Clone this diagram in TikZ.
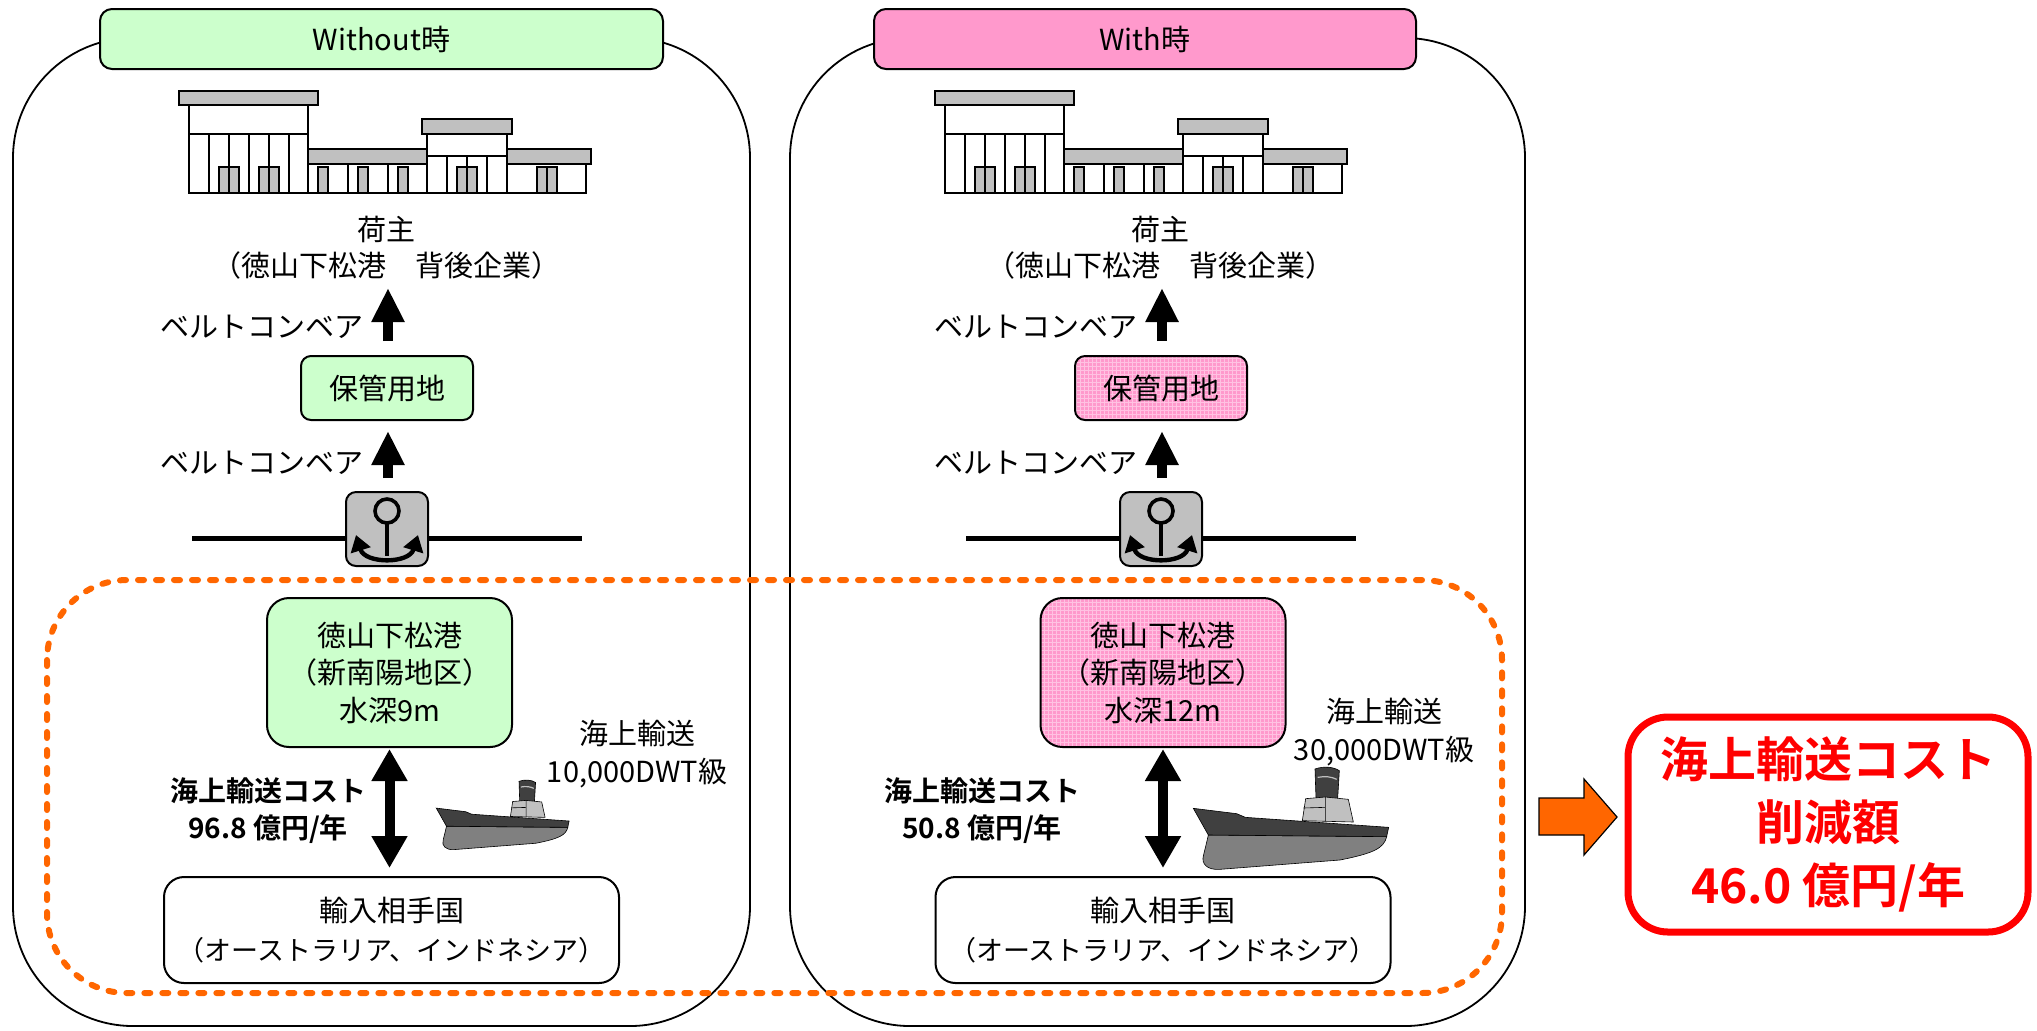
\documentclass[tikz,border=0pt]{standalone}
\usepackage{fontspec}
\setmainfont{Noto Sans CJK JP}[BoldFont={Noto Sans CJK JP Bold}]
\usetikzlibrary{arrows.meta,patterns.meta}

\definecolor{lgreen}{HTML}{CCFFCC}
\definecolor{lpink}{HTML}{FF99CC}
\definecolor{gridpink}{HTML}{FFC2E2}
\definecolor{roofgray}{HTML}{C0C0C0}
\definecolor{orangeline}{HTML}{FF6600}
\definecolor{hulldark}{HTML}{404040}
\definecolor{hulllight}{HTML}{808080}

\tikzset{
  % row of factory buildings (local pixel coordinates)
  warehouse/.pic={
    \begin{scope}[line width=0.6pt]
      \filldraw[fill=white] (189,105) rectangle (308,193);
      \filldraw[fill=white] (308,164) rectangle (427,193);
      \filldraw[fill=white] (427,134) rectangle (507,193);
      \filldraw[fill=white] (507,164) rectangle (586,193);
      \filldraw[fill=roofgray] (219,167) rectangle (239,193) (259,167) rectangle (279,193)
        (318,167) rectangle (328,193) (358,167) rectangle (368,193) (398,167) rectangle (408,193)
        (457,167) rectangle (477,193) (537,167) rectangle (557,193);
      \draw (189,134) -- (308,134) (427,156) -- (507,156);
      \foreach \x in {209,229,249,269,289} \draw (\x,134) -- (\x,193);
      \foreach \x in {348,388} \draw (\x,164) -- (\x,193);
      \foreach \x in {447,467,487} \draw (\x,156) -- (\x,193);
      \draw (547,167) -- (547,193);
      \filldraw[fill=roofgray, line width=0.9pt] (179,91) rectangle (318,105)
        (308,149) rectangle (427,164) (422,119) rectangle (512,134) (507,149) rectangle (591,164);
    \end{scope}
  },
  % bulk carrier seen from the side
  cargoship/.pic={
    \filldraw[fill=hulldark, line width=0.3pt] (525,147) .. controls (550,138) and (580,140) .. (598,152)
      -- (593,236) -- (528,234) -- cycle;
    \draw[white!75!black, line width=0.6pt] (533,172) .. controls (555,168) and (575,170) .. (590,178);
    \filldraw[fill=roofgray, line width=0.3pt] (497,236) -- (556,231) -- (625,238) -- (640,306) -- (487,302) -- cycle;
    \draw[line width=0.3pt] (556,231) -- (556,304) (490,264) -- (556,262);
    \filldraw[fill=hulllight, line width=0.3pt] (205,345) -- (740,350)
      .. controls (732,385) and (700,400) .. (600,420) -- (240,448)
      .. controls (200,451) and (184,430) .. (190,408)
      .. controls (194,390) and (200,368) .. (205,345) -- cycle;
    \filldraw[fill=hulldark, line width=0.3pt] (160,265) -- (290,281) -- (316,292) -- (746,322)
      -- (740,350) -- (205,345) -- cycle;
  },
  % berth symbol
  anchorsign/.pic={
    \filldraw[fill=roofgray, line width=1pt, rounded corners=5pt] (-41,-37) rectangle (41,37);
    \draw[line width=1.8pt] (0,-18) circle[radius=6pt];
    \draw[line width=2.2pt] (0,-6) -- (0,27);
    \draw[line width=2.2pt, {Triangle[width=10pt,length=8pt]}-{Triangle[width=10pt,length=8pt]}]
      (-31,6) .. controls (-22,35) and (22,35) .. (31,6);
  }
}

\begin{document}
\begin{tikzpicture}[x=0.5pt,y=-0.5pt,
  every node/.style={inner sep=0pt, align=center, font=\fontsize{14.5}{18}\selectfont},
  panelframe/.style={draw, line width=0.9pt, rounded corners=60pt},
  seazone/.style={draw=orangeline, line width=3pt, dash pattern=on 3pt off 6pt, line cap=round, rounded corners=40pt},
  titlebox/.style={draw, line width=1pt, rounded corners=6pt, minimum height=30pt},
  greenfill/.style={fill=lgreen},
  pinkfill/.style={preaction={fill=lpink}, pattern={Hatch[angle=0,distance=2pt,line width=0.35pt]}, pattern color=gridpink},
  storebox/.style={draw, line width=1pt, rounded corners=5pt, minimum width=86pt, minimum height=32pt},
  portbox/.style={draw, line width=1pt, rounded corners=11pt, minimum width=122.5pt, minimum height=74.5pt,
    font=\fontsize{14.5}{18.75}\selectfont},
  partnerbox/.style={draw, line width=1pt, rounded corners=10pt, minimum width=227.5pt, minimum height=53pt,
    font=\fontsize{14.5}{19.5}\selectfont},
  liftarrow/.style={line width=5pt, -{Triangle[width=15.5pt,length=17pt]}},
  seaarrow/.style={line width=5pt, {Triangle[width=17pt,length=16pt]}-{Triangle[width=17pt,length=16pt]}},
  quayline/.style={line width=2.5pt},
  costlabel/.style={font=\bfseries\fontsize{14}{18.5}\selectfont},
  shiplabel/.style={font=\fontsize{14.5}{19}\selectfont},
  resultbox/.style={draw=red, line width=3.5pt, rounded corners=20pt, minimum width=200pt, minimum height=107.5pt,
    text=red, font=\bfseries\fontsize{24}{31.5}\selectfont}
]
\useasboundingbox (0,0) rectangle (2037,1030);

% the two cases
\draw[panelframe] (13,38) rectangle (750,1026);
\draw[panelframe] (790,38) rectangle (1525,1026);

% sea transport section
\draw[seazone] (47,580) rectangle (1502,993);

\node[titlebox, greenfill, minimum width=281.5pt] (tw) at (381.5,39) {Without時};
\node[titlebox, fill=lpink, minimum width=271pt] (tn) at (1145,39) {With時};

% ---------------- Without ----------------
\pic at (0,0) {warehouse};
\node (shipperL) at (386,248) {荷主\\（徳山下松港　背後企業）};
\node (beltAL) at (262,327) {ベルトコンベア};
\node (beltBL) at (262,463) {ベルトコンベア};
\node[storebox, greenfill] (storeL) at (387,388) {保管用地};
\coordinate (aL1s) at (388,341);
\coordinate (aL1e) at (388,288);
\coordinate (aL2s) at (388,478);
\coordinate (aL2e) at (388,431);
\draw[liftarrow] (aL1s) -- (aL1e);
\draw[liftarrow] (aL2s) -- (aL2e);
\coordinate (qL1) at (192,538);
\coordinate (qL2) at (582,538);
\draw[quayline] (qL1) -- (qL2);
\pic at (387,529) {anchorsign};
\node[portbox, greenfill] (portL) at (389.5,672.5) {徳山下松港\\（新南陽地区）\\水深9m};
\node[partnerbox] (partnerL) at (391.5,930) {輸入相手国\\{\fontsize{13.5}{19.5}\selectfont（オーストラリア、インドネシア）}};
\draw[seaarrow, shorten <=0.5pt, shorten >=4pt] (portL.south) -- (portL.south |- partnerL.north);
\node[costlabel] (costL) at (268,810.5) {海上輸送コスト\\96.8 億円/年};
\pic[scale=0.2267] at (400,748) {cargoship};
\node[shiplabel] (shiptextL) at (637,754) {海上輸送\\10,000DWT級};

% ---------------- With ----------------
\pic at (756,0) {warehouse};
\node (shipperR) at (1160,248) {荷主\\（徳山下松港　背後企業）};
\node (beltAR) at (1036,327) {ベルトコンベア};
\node (beltBR) at (1036,463) {ベルトコンベア};
\node[storebox, pinkfill] (storeR) at (1161,388) {保管用地};
\coordinate (aR1s) at (1162,341);
\coordinate (aR1e) at (1162,288);
\coordinate (aR2s) at (1162,478);
\coordinate (aR2e) at (1162,431);
\draw[liftarrow] (aR1s) -- (aR1e);
\draw[liftarrow] (aR2s) -- (aR2e);
\coordinate (qR1) at (966,538);
\coordinate (qR2) at (1356,538);
\draw[quayline] (qR1) -- (qR2);
\pic at (1161,529) {anchorsign};
\node[portbox, pinkfill] (portR) at (1163,672.5) {徳山下松港\\（新南陽地区）\\水深12m};
\node[partnerbox] (partnerR) at (1163,930) {輸入相手国\\{\fontsize{13.5}{19.5}\selectfont（オーストラリア、インドネシア）}};
\draw[seaarrow, shorten <=0.5pt, shorten >=4pt] (portR.south) -- (portR.south |- partnerR.north);
\node[costlabel] (costR) at (982,810.5) {海上輸送コスト\\50.8 億円/年};
\pic[scale=0.3333] at (1140,720) {cargoship};
\node[shiplabel] (shiptextR) at (1384,732) {海上輸送\\30,000DWT級};

% ---------------- result ----------------
\filldraw[fill=orangeline, line width=0.6pt] (1539,798) -- (1584,798) -- (1584,779) -- (1617,817)
  -- (1584,855) -- (1584,835) -- (1539,835) -- cycle;
\node[resultbox] (result) at (1828,824.5) {海上輸送コスト\\削減額\\46.0 億円/年};

\end{tikzpicture}
\end{document}
